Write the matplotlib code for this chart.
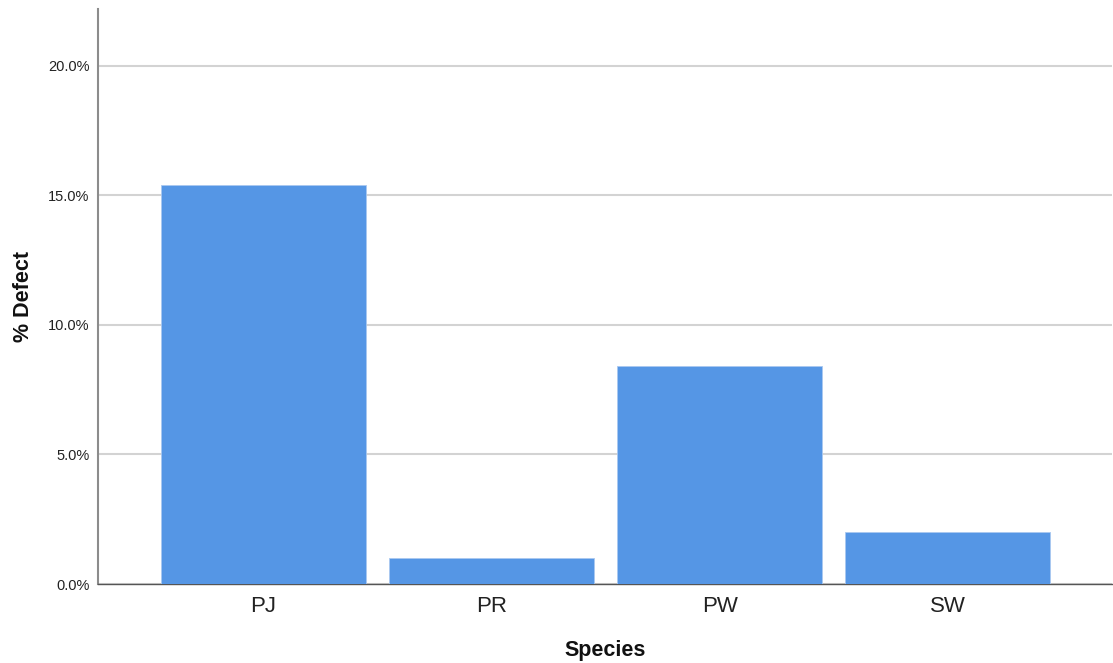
import matplotlib
matplotlib.use("Agg")
import matplotlib.pyplot as plt
from matplotlib.ticker import FuncFormatter

species = ["PJ", "PR", "PW", "SW"]
defect_pct = [15.4, 1.0, 8.4, 2.0]
yticks = [0, 5, 10, 15, 20]

plt.rcParams['font.family'] = ['Liberation Sans', 'DejaVu Sans']

fig = plt.figure(figsize=(11.13, 6.63), dpi=100)
ax = fig.add_axes([98/1113, 79/663, (1112-98)/1113, (584-9)/663])

x = list(range(len(species)))
ax.bar(x, defect_pct, width=0.9, color="#5596e5", edgecolor="#a9c8f0", linewidth=0.6, zorder=3)

ax.set_xlim(-0.726, 3.72)
ax.set_ylim(0, 22.2)
ax.set_yticks(yticks)
ax.yaxis.set_major_formatter(FuncFormatter(lambda v, p: f"{v:.1f}%"))
ax.set_xticks(x)
ax.set_xticklabels(species)
ax.grid(axis="y", color="#d3d3d3", linewidth=1.5, zorder=0)
ax.set_axisbelow(True)

for s in ["top", "right"]:
    ax.spines[s].set_visible(False)
ax.spines["left"].set_color("#8c8c8c")
ax.spines["left"].set_linewidth(1.5)
ax.spines["bottom"].set_color("#555555")
ax.spines["bottom"].set_linewidth(1.0)

ax.tick_params(axis="y", length=0, pad=6, labelsize=10.5, labelcolor="#222222")
ax.tick_params(axis="x", length=0, pad=9, labelsize=16, labelcolor="#222222")

ax.set_xlabel("Species", fontsize=15.5, fontweight="bold", labelpad=16, color="#111111")
ax.set_ylabel("% Defect", fontsize=15.5, fontweight="bold", labelpad=10, color="#111111")

fig.savefig("out.png", dpi=100)
